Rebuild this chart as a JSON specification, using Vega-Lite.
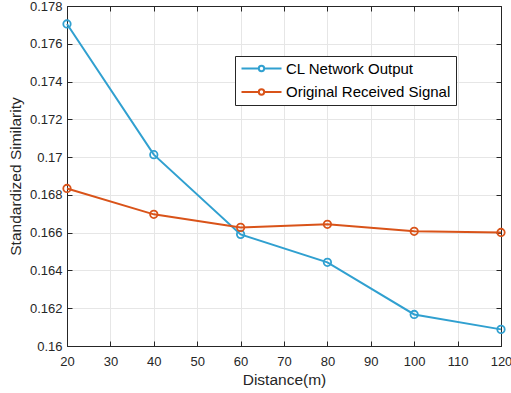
{
  "$schema": "https://vega.github.io/schema/vega-lite/v6.json",
  "width": 434,
  "height": 340,
  "autosize": {"type": "none"},
  "padding": {"left": 67, "top": 6, "right": 10, "bottom": 47},
  "background": "white",
  "config": {
    "font": "Liberation Sans",
    "view": {"stroke": "#262626", "strokeWidth": 1},
    "axis": {
      "domainColor": "#262626",
      "tickColor": "#262626",
      "gridColor": "#E6E6E6",
      "gridOpacity": 1,
      "labelColor": "#262626",
      "titleColor": "#262626",
      "labelFont": "Liberation Sans",
      "titleFont": "Liberation Sans",
      "labelFontSize": 13,
      "titleFontSize": 15.5,
      "titleFontWeight": "normal",
      "labelFlush": false
    }
  },
  "data": {
    "values": [
      {"d": 20, "v": 0.17705, "s": "CL Network Output"},
      {"d": 40, "v": 0.17013, "s": "CL Network Output"},
      {"d": 60, "v": 0.16591, "s": "CL Network Output"},
      {"d": 80, "v": 0.16443, "s": "CL Network Output"},
      {"d": 100, "v": 0.16167, "s": "CL Network Output"},
      {"d": 120, "v": 0.16088, "s": "CL Network Output"},
      {"d": 20, "v": 0.16834, "s": "Original Received Signal"},
      {"d": 40, "v": 0.16697, "s": "Original Received Signal"},
      {"d": 60, "v": 0.16628, "s": "Original Received Signal"},
      {"d": 80, "v": 0.16644, "s": "Original Received Signal"},
      {"d": 100, "v": 0.16607, "s": "Original Received Signal"},
      {"d": 120, "v": 0.16601, "s": "Original Received Signal"}
    ]
  },
  "layer": [
    {
      "mark": {"type": "line", "strokeWidth": 2, "point": {"filled": false, "size": 55, "strokeWidth": 1.8}},
      "encoding": {
        "x": {
          "field": "d", "type": "quantitative",
          "scale": {"domain": [20, 120], "nice": false, "zero": false},
          "axis": {"values": [20,30,40,50,60,70,80,90,100,110,120], "title": "Distance(m)", "tickSize": -5, "labelPadding": 14.5, "titlePadding": 4}
        },
        "y": {
          "field": "v", "type": "quantitative",
          "scale": {"domain": [0.16, 0.178], "nice": false, "zero": false},
          "axis": {"values": [0.16,0.162,0.164,0.166,0.168,0.17,0.172,0.174,0.176,0.178], "format": "~g", "title": "Standardized Similarity", "tickSize": -5, "labelPadding": 10, "titlePadding": 6}
        },
        "color": {
          "field": "s", "type": "nominal",
          "scale": {"domain": ["CL Network Output", "Original Received Signal"], "range": ["#30A0D0", "#D95319"]},
          "legend": {
            "title": null,
            "orient": "none",
            "legendX": 168,
            "legendY": 50,
            "fillColor": "white",
            "strokeColor": "#262626",
            "padding": 5,
            "rowPadding": 7.5,
            "labelFontSize": 15,
            "labelLimit": 300,
            "labelColor": "#000000",
            "labelFont": "Liberation Sans",
            "symbolType": "M-1,0H1.883M2.783,0H5.667M1.883,0A0.45,0.45 0 1,0 2.783,0A0.45,0.45 0 1,0 1.883,0",
            "symbolSize": 144,
            "symbolStrokeWidth": 2,
            "symbolFillColor": "transparent",
            "labelOffset": 31
          }
        }
      }
    },
    {
      "mark": {"type": "point", "opacity": 0},
      "encoding": {
        "x": {"field": "d", "type": "quantitative", "scale": {"domain": [20, 120], "nice": false, "zero": false},
          "axis": {"orient": "top", "values": [20,30,40,50,60,70,80,90,100,110,120], "labels": false, "grid": false, "title": null, "tickSize": -5}},
        "y": {"field": "v", "type": "quantitative", "scale": {"domain": [0.16, 0.178], "nice": false, "zero": false},
          "axis": {"orient": "right", "values": [0.16,0.162,0.164,0.166,0.168,0.17,0.172,0.174,0.176,0.178], "labels": false, "grid": false, "title": null, "tickSize": -5}}
      }
    }
  ],
  "resolve": {"axis": {"x": "independent", "y": "independent"}}
}
